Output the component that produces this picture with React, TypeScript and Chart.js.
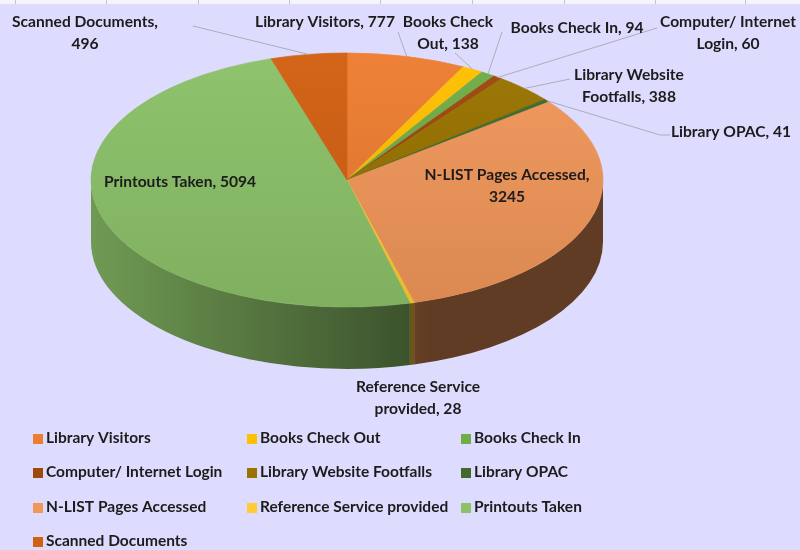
import React, { useEffect, useRef } from "react";
import { Chart, registerables } from "chart.js";

Chart.register(...registerables);

// ---------- data ----------
const categories = [
  "Library Visitors",
  "Books Check Out",
  "Books Check In",
  "Computer/ Internet Login",
  "Library Website Footfalls",
  "Library OPAC",
  "N-LIST Pages Accessed",
  "Reference Service provided",
  "Printouts Taken",
  "Scanned Documents",
];
const values = [777, 138, 94, 60, 388, 41, 3245, 28, 5094, 496];
const colors = [
  "#ED7D31",
  "#FFC000",
  "#70AD47",
  "#9E480E",
  "#997300",
  "#43682B",
  "#F1975A",
  "#FFCD33",
  "#8CC168",
  "#D26012",
];
// number of words on the first line of each data label (0 = single line)
const labelBreaks = [0, 2, 0, 2, 2, 0, 3, 2, 0, 2];

// ---------- layout (positions only) ----------
const CX = 347;
const CY = 180;
const RX = 256;
const RY = 127;
const DEPTH = 62;
// data label centres: [x, y of first line]
const labelPos: [number, number][] = [
  [325, 22],
  [448, 22],
  [577, 28],
  [728, 22],
  [629, 75],
  [731, 132],
  [507, 175],
  [418, 387],
  [180, 182],
  [85, 22],
];
// leader line label-side points
const leaderPts: ([number, number][] | null)[] = [
  [[398, 32]],
  [[455, 53]],
  [[502, 32]],
  [[657, 28]],
  [[570, 79]],
  [[670, 135], [660, 135]],
  null,
  null,
  null,
  [[193, 26]],
];
const legendCols = [33, 247, 461];
const legendRows = [438, 472, 507, 541];
const gridXs = [15, 106, 198, 289, 380, 472, 564, 655, 745];

function rgb(h: string): number[] {
  const n = parseInt(h.slice(1), 16);
  return [(n >> 16) & 255, (n >> 8) & 255, n & 255];
}
function shade(h: string, f: number): string {
  const [r, g, b] = rgb(h);
  return `rgb(${Math.round(r * f)},${Math.round(g * f)},${Math.round(b * f)})`;
}
function tint(h: string, f: number): string {
  const [r, g, b] = rgb(h);
  return `rgb(${Math.round(r + (255 - r) * f)},${Math.round(g + (255 - g) * f)},${Math.round(b + (255 - b) * f)})`;
}

function labelLines(i: number): string[] {
  const text = `${categories[i]}, ${values[i]}`;
  const n = labelBreaks[i];
  if (!n) return [text];
  const words = text.split(" ");
  return [words.slice(0, n).join(" "), words.slice(n).join(" ")];
}

export default function App() {
  const ref = useRef<HTMLCanvasElement>(null);

  useEffect(() => {
    const canvas = ref.current;
    if (!canvas) return;
    const K = RY / RX;

    const topFill = (c: any) => {
      const i = c.dataIndex;
      if (i === undefined) return colors[0];
      const area = c.chart.chartArea;
      if (!area) return colors[i];
      const cy = (area.top + area.bottom) / 2;
      const g = c.chart.ctx.createLinearGradient(0, cy - RX, 0, cy + RX);
      g.addColorStop(0, tint(colors[i], 0.03));
      g.addColorStop(1, shade(colors[i], 0.91));
      return g;
    };

    const background = {
      id: "bgGrid",
      beforeDraw(chart: any) {
        const ctx = chart.ctx;
        ctx.save();
        ctx.fillStyle = "#dedcfe";
        ctx.fillRect(0, 0, 800, 550);
        ctx.fillStyle = "#f4f4fa";
        ctx.fillRect(0, 0, 800, 4);
        ctx.strokeStyle = "#c4c4cc";
        ctx.lineWidth = 1;
        for (const x of gridXs) {
          ctx.beginPath();
          ctx.moveTo(x + 0.5, 0);
          ctx.lineTo(x + 0.5, 4);
          ctx.stroke();
        }
        ctx.restore();
      },
    };

    const pie3d = {
      id: "pie3d",
      beforeDatasetsDraw(chart: any) {
        const ctx = chart.ctx;
        const arcs = chart.getDatasetMeta(0).data as any[];
        if (!arcs.length) return;
        const cx = arcs[0].x;
        const cy = arcs[0].y;
        const R = arcs[0].outerRadius;
        const ry = R * K;
        // side walls (front half only)
        for (let i = 0; i < arcs.length; i++) {
          const a = arcs[i];
          const s1 = Math.max(a.startAngle, 0);
          const e1 = Math.min(a.endAngle, Math.PI);
          if (e1 <= s1) continue;
          const g = ctx.createLinearGradient(cx - R, 0, cx + R, 0);
          for (let k = 0; k <= 24; k++) {
            const u = k / 24;
            const c = 2 * u - 1;
            const f = Math.max(0.4, 0.5 - 0.3 * c);
            g.addColorStop(u, shade(colors[i], f));
          }
          ctx.fillStyle = g;
          ctx.beginPath();
          ctx.ellipse(cx, CY, R, ry, 0, s1, e1, false);
          ctx.ellipse(cx, CY + DEPTH, R, ry, 0, e1, s1, true);
          ctx.closePath();
          ctx.fill();
        }
        // squash the library-drawn top face into an ellipse
        ctx.save();
        ctx.translate(0, CY);
        ctx.scale(1, K);
        ctx.translate(0, -cy);
      },
      afterDatasetsDraw(chart: any) {
        chart.ctx.restore();
      },
    };

    const labels3d = {
      id: "labels3d",
      afterDraw(chart: any) {
        const ctx = chart.ctx;
        const arcs = chart.getDatasetMeta(0).data as any[];
        if (!arcs.length) return;
        const R = arcs[0].outerRadius;
        const ry = R * K;
        ctx.save();
        // leader lines
        ctx.strokeStyle = "#adadba";
        ctx.lineWidth = 1;
        for (let i = 0; i < arcs.length; i++) {
          const pts = leaderPts[i];
          if (!pts) continue;
          const a = arcs[i];
          const mid = (a.startAngle + a.endAngle) / 2;
          const px = a.x + R * Math.cos(mid);
          const py = CY + ry * Math.sin(mid);
          ctx.beginPath();
          ctx.moveTo(pts[0][0], pts[0][1]);
          for (let j = 1; j < pts.length; j++) ctx.lineTo(pts[j][0], pts[j][1]);
          ctx.lineTo(px, py);
          ctx.stroke();
        }
        // data labels
        ctx.font = "bold 15.6px Lato";
        ctx.fillStyle = "#1c1c1c";
        ctx.textAlign = "center";
        ctx.textBaseline = "middle";
        for (let i = 0; i < arcs.length; i++) {
          const lines = labelLines(i);
          const [x, y] = labelPos[i];
          lines.forEach((ln, j) => ctx.fillText(ln, x, y + j * 22));
        }
        // legend
        ctx.font = "bold 15.5px Lato";
        ctx.textAlign = "left";
        for (let i = 0; i < categories.length; i++) {
          const col = i % 3;
          const row = Math.floor(i / 3);
          const x = legendCols[col];
          const y = legendRows[row];
          ctx.fillStyle = colors[i];
          ctx.fillRect(x, y - 4, 10, 10);
          ctx.fillStyle = "#1c1c1c";
          ctx.fillText(categories[i], x + 13, y);
        }
        ctx.restore();
      },
    };

    const chart = new Chart(canvas, {
      type: "pie",
      data: {
        labels: categories,
        datasets: [
          {
            data: values,
            backgroundColor: topFill as any,
            borderColor: topFill as any,
            borderWidth: 1,
            radius: RX,
            clip: false as any,
          } as any,
        ],
      },
      options: {
        responsive: false,
        maintainAspectRatio: false,
        animation: false,
        events: [],
        layout: { padding: { left: 0, right: 800 - 2 * CX, top: 0, bottom: 0 } },
        plugins: {
          legend: { display: false },
          tooltip: { enabled: false },
        },
      },
      plugins: [background, pie3d, labels3d],
    });
    return () => chart.destroy();
  }, []);

  return (
    <div
      style={{
        position: "fixed",
        left: 0,
        top: 0,
        width: 800,
        height: 550,
        background: "#dedcfe",
      }}
    >
      <canvas ref={ref} width={800} height={550} style={{ display: "block" }} />
    </div>
  );
}
